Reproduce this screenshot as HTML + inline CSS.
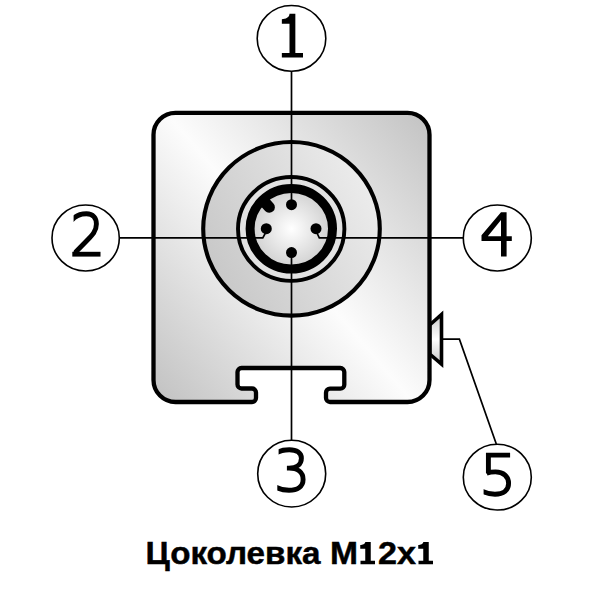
<!DOCTYPE html>
<html><head><meta charset="utf-8">
<style>
html,body{margin:0;padding:0;background:#fff;width:600px;height:600px;overflow:hidden}
svg{display:block}
text{font-family:"Liberation Sans",sans-serif}
</style></head>
<body>
<svg width="600" height="600" viewBox="0 0 600 600">
<defs>
<linearGradient id="gBody" gradientUnits="userSpaceOnUse" x1="135" y1="385" x2="440" y2="125">
<stop offset="0" stop-color="#c0c0c0"/>
<stop offset="0.5" stop-color="#fcfcfc"/>
<stop offset="1" stop-color="#c2c2c2"/>
</linearGradient>
<linearGradient id="gAnn" gradientUnits="userSpaceOnUse" x1="220" y1="275" x2="370" y2="195">
<stop offset="0" stop-color="#c9c9c9"/>
<stop offset="1" stop-color="#ebebeb"/>
</linearGradient>
<radialGradient id="gIn" gradientUnits="userSpaceOnUse" cx="291.5" cy="228.7" r="40">
<stop offset="0" stop-color="#ffffff"/>
<stop offset="1" stop-color="#d0d0d0"/>
</radialGradient>
<linearGradient id="gBump" x1="0" y1="0" x2="0" y2="1">
<stop offset="0" stop-color="#c8c8c8"/>
<stop offset="0.5" stop-color="#ffffff"/>
<stop offset="1" stop-color="#c8c8c8"/>
</linearGradient>
</defs>

<!-- side bump -->
<path d="M429.7,325 L441.5,314.5 L441.5,364 L429.7,354 Z" fill="url(#gBump)" stroke="#000" stroke-width="3.6" stroke-linejoin="miter"/>

<!-- body -->
<path d="M175.5,112.8 H407.5 A22,22 0 0 1 429.5,134.8 V380 A22,22 0 0 1 407.5,402 H330 A4,4 0 0 1 326,398 V392.7 A4,4 0 0 1 330,388.7 H340.3 A4,4 0 0 0 344.3,384.7 V372 A4,4 0 0 0 340.3,368 H241.5 A4,4 0 0 0 237.5,372 V384.5 A4,4 0 0 0 241.5,388.5 H252 A4,4 0 0 1 256,392.5 V398 A4,4 0 0 1 252,402 H175.5 A22,22 0 0 1 153.5,380 V134.8 A22,22 0 0 1 175.5,112.8 Z" fill="url(#gBody)" stroke="#000" stroke-width="4.3"/>

<!-- big circle -->
<ellipse cx="291.5" cy="228.85" rx="88.3" ry="86.8" fill="url(#gAnn)" stroke="#000" stroke-width="4.1"/>
<!-- thin ring -->
<ellipse cx="291.2" cy="228.95" rx="53.2" ry="51.9" fill="#e2e2e2" stroke="#000" stroke-width="3.9"/>
<!-- thick ring -->
<ellipse cx="291.3" cy="228.7" rx="41.2" ry="40.3" fill="url(#gIn)" stroke="#000" stroke-width="9"/>
<!-- key -->
<line x1="265" y1="202.5" x2="269.3" y2="207.2" stroke="#000" stroke-width="11.2" stroke-linecap="round"/>
<!-- pins -->
<circle cx="291.5" cy="204.7" r="5.5"/>
<circle cx="291.5" cy="252.6" r="5.5"/>
<circle cx="266.3" cy="228.7" r="5.5"/>
<circle cx="316" cy="228.7" r="5.5"/>

<!-- leader lines -->
<g stroke="#000" stroke-width="1.7" fill="none">
<line x1="291.5" y1="71" x2="291.5" y2="204"/>
<line x1="291.5" y1="253" x2="291.5" y2="440.5"/>
<polyline points="119.5,237.8 262.8,237.8 266,232"/>
<polyline points="463.5,237.8 319.3,237.8 316.5,232"/>
<polyline points="443,339.1 459.4,339.1 496.3,444"/>
</g>

<!-- callout circles -->
<g stroke="#000" stroke-width="1.6" fill="none">
<ellipse cx="291.5" cy="38.4" rx="34.3" ry="32.9"/>
<ellipse cx="85.65" cy="238" rx="33.65" ry="33"/>
<ellipse cx="291.7" cy="473.65" rx="34" ry="33.35"/>
<ellipse cx="497.3" cy="238" rx="34" ry="33"/>
<ellipse cx="497.3" cy="477.15" rx="34" ry="32.9"/>
</g>

<clipPath id="c2"><rect x="73.6" y="200" width="40" height="70"/></clipPath>
<clipPath id="c3"><path d="M278.6,440 H320 V500 H277.3 V468 H278.6 Z"/></clipPath>
<clipPath id="c5"><rect x="483.6" y="445" width="40" height="60"/></clipPath>
<g fill="none" stroke="#000" stroke-width="4.9" stroke-linecap="butt" stroke-linejoin="miter">
<path clip-path="url(#c2)" d="M71.5,220.5 C75.5,215.5 81,213.7 86.5,213.7 C93,213.7 96.4,218 96.4,224 C96.4,231 92.5,235 86.5,241 L73.4,254.4"/>
<path clip-path="url(#c3)" d="M276,453 C280,450.5 284.5,449.7 289.3,449.7 C297,449.7 301.4,453.2 301.4,458.2 C301.4,464.3 296.5,468.1 289,468.1 H286.9 M289,468.1 C298,468.1 303.1,472.5 303.1,479.4 C303.1,486.4 297.5,490.2 289,490.2 C284,490.2 279.5,489.2 275.5,487"/>
<path clip-path="url(#c5)" d="M510.1,455.1 H488.4 V473.6 M486.7,473.1 C489.5,472.2 492.3,471.9 495.5,471.9 C503.5,471.9 508.6,476.5 508.6,483.3 C508.6,490 503.5,494.2 495,494.2 C490,494.2 485.5,493 481.5,491"/>
</g>
<g fill="#000">
<rect x="72.3" y="251.8" width="28.2" height="4.8"/>
<path fill-rule="evenodd" d="M501,212.3 H506.6 V236.2 H511.8 V241 H506.6 V256.6 H501 V241 H481.5 V235.2 Z M487.8,236.2 H501 V219.9 Z"/>
<path d="M289.5,13.85 H295.35 V53 H303 V57.5 H281.85 V53 H289.5 V23.75 H281.85 V19.25 C285.5,19.25 289.5,17.5 289.5,13.85 Z"/>
</g>

<g fill="#000" stroke="#000" stroke-width="0.45" font-size="31" font-weight="bold">
<text x="145.5" y="564.4" textLength="175" lengthAdjust="spacingAndGlyphs">Цоколевка</text>
<text x="330" y="564.4" textLength="28" lengthAdjust="spacingAndGlyphs">M</text>
<text x="378" y="564.4" textLength="38" lengthAdjust="spacingAndGlyphs">2x</text>
</g>
<g fill="#000">
<path d="M365.25,542 H370.75 V560.75 H375 V564.25 H360.5 V560.75 H365.25 V548.75 H360.25 V545 C362.5,545 365.25,544 365.25,542 Z"/>
<path d="M423.25,542 H428.75 V560.75 H433 V564.25 H418.5 V560.75 H423.25 V548.75 H418.25 V545 C420.5,545 423.25,544 423.25,542 Z"/>
</g>
</svg>
</body></html>
